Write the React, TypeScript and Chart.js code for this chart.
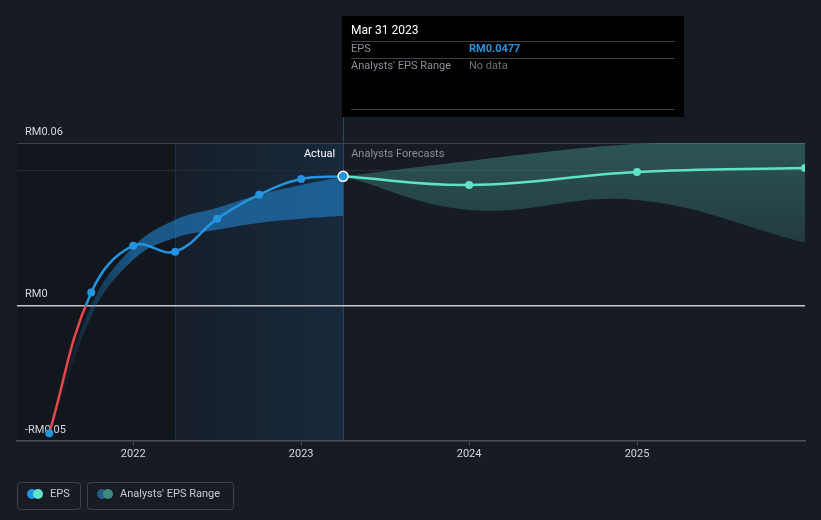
import React, { useEffect, useRef } from 'react';
import { Chart, registerables } from 'chart.js';

Chart.register(...registerables);

// ---- data (decimal years) ----
const epsDates = [2021.5, 2021.75, 2022.0, 2022.25, 2022.5, 2022.75, 2023.0, 2023.25];
const epsValues = [-0.0471, 0.0048, 0.0221, 0.0199, 0.032, 0.0409, 0.0467, 0.0477];

const pastRangeDates = [2021.5, 2021.75, 2022.0, 2022.25, 2022.5, 2022.75, 2023.0, 2023.25];
const pastRangeLow = [-0.05, -0.004, 0.0169, 0.025, 0.028, 0.0305, 0.032, 0.0331];
const pastRangeHigh = [-0.047, 0.0, 0.0217, 0.0317, 0.0361, 0.0409, 0.0445, 0.0475];

const forecastDates = [2023.25, 2024.0, 2025.0, 2026.0];
const forecastValues = [0.0477, 0.0445, 0.0493, 0.0508];
const forecastLow = [0.0477, 0.0353, 0.039, 0.0232];
const forecastHigh = [0.0477, 0.0534, 0.0596, 0.0604];

const yTicks = [-0.05, 0, 0.05, 0.06];
const yTickLabels: Record<string, string> = { '-0.05': '-RM0.05', '0': 'RM0', '0.05': '', '0.06': 'RM0.06' };
const xTicks = [2022, 2023, 2024, 2025];

const xMin = 2021.308;
const xMax = 2026.0;
const highlightStart = 2022.25;
const currentDate = 2023.25;

const tooltipTitle = 'Mar 31 2023';
const tooltipEpsLabel = 'EPS';
const tooltipEpsValue = 'RM0.0477';
const tooltipRangeLabel = "Analysts' EPS Range";
const tooltipRangeValue = 'No data';
const legendLabels = ['EPS', "Analysts' EPS Range"];

const BG = '#161b24';
const BLUE = '#2394df';
const RED = '#e8474a';
const TEAL = '#5ee2c8';
const FONT = 'Roboto, "Open Sans", sans-serif';

const pts = (xs: number[], ys: number[]) => xs.map((x, i) => ({ x, y: ys[i] }));

export default function App() {
  const ref = useRef<HTMLCanvasElement>(null);

  useEffect(() => {
    const canvas = ref.current!;

    const deco = {
      id: 'deco',
      beforeDraw(chart: any) {
        const { ctx, chartArea: a, scales } = chart;
        const x = scales.x;
        ctx.save();
        ctx.fillStyle = BG;
        ctx.fillRect(0, 0, chart.width, chart.height);
        const xs = x.getPixelForValue(highlightStart);
        const xe = x.getPixelForValue(currentDate);
        ctx.fillStyle = 'rgba(0,0,0,0.14)';
        ctx.fillRect(a.left, a.top, xs - a.left, a.bottom - a.top);
        const g = ctx.createLinearGradient(xs, 0, xe, 0);
        g.addColorStop(0, 'rgba(30,110,180,0.04)');
        g.addColorStop(1, 'rgba(30,110,180,0.17)');
        ctx.fillStyle = g;
        ctx.fillRect(xs, a.top, xe - xs, a.bottom - a.top);
        ctx.lineWidth = 1;
        ctx.strokeStyle = 'rgba(35,70,105,0.5)';
        ctx.beginPath();
        ctx.moveTo(Math.round(xs) + 0.5, a.top);
        ctx.lineTo(Math.round(xs) + 0.5, a.bottom);
        ctx.stroke();
        ctx.strokeStyle = '#244766';
        ctx.beginPath();
        ctx.moveTo(Math.round(xe) + 0.5, 117);
        ctx.lineTo(Math.round(xe) + 0.5, a.bottom);
        ctx.stroke();
        ctx.restore();
      },
      afterDraw(chart: any) {
        const { ctx, scales } = chart;
        const xe = scales.x.getPixelForValue(currentDate);
        ctx.save();
        // Actual / Forecast labels
        ctx.font = `11px ${FONT}`;
        ctx.textBaseline = 'middle';
        ctx.textAlign = 'right';
        ctx.fillStyle = '#ffffff';
        ctx.fillText('Actual', xe - 8, 154);
        ctx.textAlign = 'left';
        ctx.fillStyle = '#8a8f98';
        ctx.fillText('Analysts Forecasts', xe + 8, 154);

        // tooltip box
        const bx = Math.round(xe) - 1;
        ctx.fillStyle = '#000000';
        ctx.fillRect(bx, 16, 342, 101);
        ctx.strokeStyle = '#3a3e45';
        ctx.lineWidth = 1;
        [41.5, 58.5, 109.5].forEach((yy) => {
          ctx.beginPath();
          ctx.moveTo(bx + 9, yy);
          ctx.lineTo(bx + 333, yy);
          ctx.stroke();
        });
        ctx.textAlign = 'left';
        ctx.fillStyle = '#ffffff';
        ctx.font = `12px ${FONT}`;
        ctx.fillText(tooltipTitle, bx + 9, 31);
        ctx.font = `11px ${FONT}`;
        ctx.fillStyle = '#8a8f98';
        ctx.fillText(tooltipEpsLabel, bx + 9, 49);
        ctx.fillText(tooltipRangeLabel, bx + 9, 66);
        ctx.fillStyle = '#6c7078';
        ctx.fillText(tooltipRangeValue, bx + 127, 66);
        ctx.font = `bold 11px ${FONT}`;
        ctx.fillStyle = BLUE;
        ctx.fillText(tooltipEpsValue, bx + 127, 49);

        // legend
        ctx.strokeStyle = '#3d424c';
        ctx.lineWidth = 1;
        ctx.beginPath();
        ctx.roundRect(17.5, 482.5, 63, 27, 3);
        ctx.stroke();
        ctx.beginPath();
        ctx.roundRect(87.5, 482.5, 146, 27, 3);
        ctx.stroke();
        const dot = (cx: number, c: string) => {
          ctx.fillStyle = c;
          ctx.beginPath();
          ctx.arc(cx, 494, 5, 0, Math.PI * 2);
          ctx.fill();
        };
        dot(32, BLUE);
        dot(38, TEAL);
        dot(102, '#245f8a');
        dot(108, '#3e8a80');
        ctx.font = `11px ${FONT}`;
        ctx.fillStyle = '#c9ccd1';
        ctx.textAlign = 'left';
        ctx.fillText(legendLabels[0], 50, 494);
        ctx.fillText(legendLabels[1], 120, 494);
        ctx.restore();
      },
    };

    const epsBorder = (c: any) => {
      const { chart } = c;
      const a = chart.chartArea;
      if (!a) return BLUE;
      const y0 = chart.scales.y.getPixelForValue(0);
      const g = chart.ctx.createLinearGradient(0, a.top, 0, a.bottom);
      const s = Math.min(1, Math.max(0, (y0 - a.top) / (a.bottom - a.top)));
      g.addColorStop(0, BLUE);
      g.addColorStop(s, BLUE);
      g.addColorStop(s, RED);
      g.addColorStop(1, RED);
      return g;
    };

    const pastFill = (c: any) => {
      const { chart } = c;
      const a = chart.chartArea;
      if (!a) return 'rgba(33,140,220,0.5)';
      const x0 = chart.scales.x.getPixelForValue(2021.55);
      const x1 = chart.scales.x.getPixelForValue(2022.0);
      const g = chart.ctx.createLinearGradient(x0, 0, x1, 0);
      g.addColorStop(0, 'rgba(33,140,220,0)');
      g.addColorStop(1, 'rgba(33,140,220,0.55)');
      return g;
    };

    const foreFill = (c: any) => {
      const { chart } = c;
      const a = chart.chartArea;
      if (!a) return 'rgba(90,200,180,0.28)';
      const g = chart.ctx.createLinearGradient(0, a.top, 0, chart.scales.y.getPixelForValue(0.022));
      g.addColorStop(0, 'rgba(90,200,180,0.33)');
      g.addColorStop(1, 'rgba(90,200,180,0.18)');
      return g;
    };

    const n = epsValues.length;
    const chart = new Chart(canvas, {
      type: 'line',
      data: {
        datasets: [
          {
            label: 'EPS',
            data: pts(epsDates, epsValues),
            borderColor: epsBorder,
            borderWidth: 2.5,
            tension: 0.4,
            pointRadius: epsValues.map((_, i) => (i === n - 1 ? 5 : 4)),
            pointBackgroundColor: BLUE,
            pointBorderColor: epsValues.map((_, i) => (i === n - 1 ? '#ffffff' : BLUE)),
            pointBorderWidth: epsValues.map((_, i) => (i === n - 1 ? 1.5 : 0)),
            fill: false,
            order: 0,
          },
          {
            label: 'Forecast EPS',
            data: pts(forecastDates, forecastValues),
            borderColor: TEAL,
            borderWidth: 2.5,
            tension: 0.4,
            pointRadius: forecastValues.map((_, i) => (i === 0 ? 0 : 4)),
            pointBackgroundColor: TEAL,
            pointBorderWidth: 0,
            fill: false,
            clip: 0,
            order: 1,
          },
          {
            label: 'pastLow',
            data: pts(pastRangeDates, pastRangeLow),
            borderWidth: 0,
            borderColor: 'rgba(0,0,0,0)',
            pointRadius: 0,
            tension: 0.4,
            fill: false,
            order: 2,
          },
          {
            label: 'pastHigh',
            data: pts(pastRangeDates, pastRangeHigh),
            borderWidth: 0,
            borderColor: 'rgba(0,0,0,0)',
            backgroundColor: pastFill,
            pointRadius: 0,
            tension: 0.4,
            fill: '-1',
            order: 3,
          },
          {
            label: 'foreLow',
            data: pts(forecastDates, forecastLow),
            borderWidth: 0,
            borderColor: 'rgba(0,0,0,0)',
            pointRadius: 0,
            tension: 0.4,
            fill: false,
            clip: 0,
            order: 4,
          },
          {
            label: 'foreHigh',
            data: pts(forecastDates, forecastHigh),
            borderWidth: 0,
            borderColor: 'rgba(0,0,0,0)',
            backgroundColor: foreFill,
            pointRadius: 0,
            tension: 0.4,
            fill: '-1',
            clip: 0,
            order: 5,
          },
        ],
      },
      options: {
        animation: false,
        responsive: false,
        events: [],
        layout: { padding: { left: 17, right: 16, top: 143, bottom: 49 } },
        plugins: { legend: { display: false }, tooltip: { enabled: false } },
        scales: {
          x: {
            type: 'linear',
            min: xMin,
            max: xMax,
            afterBuildTicks: (s: any) => {
              s.ticks = xTicks.map((v) => ({ value: v }));
            },
            afterFit: (s: any) => {
              s.height = 30;
            },
            ticks: {
              callback: (v: any) => String(v),
              color: '#d4d7dc',
              font: { family: FONT, size: 11 },
              padding: 3,
              maxRotation: 0,
            },
            grid: { drawOnChartArea: false, drawTicks: true, tickLength: 4, tickColor: '#4a4f58' },
            border: { display: true, color: '#4a4f58', width: 1.5 },
          },
          y: {
            type: 'linear',
            min: -0.05,
            max: 0.06,
            afterBuildTicks: (s: any) => {
              s.ticks = yTicks.map((v) => ({ value: v }));
            },
            afterFit: (s: any) => {
              s.width = 0;
            },
            ticks: {
              mirror: true,
              padding: 8,
              labelOffset: -11,
              color: '#d4d7dc',
              font: { family: FONT, size: 11 },
              callback: (v: any) => yTickLabels[String(v)] ?? '',
            },
            grid: {
              drawTicks: false,
              color: (c: any) => {
                const v = c.tick?.value;
                if (v === 0) return '#c3c6cb';
                if (v === 0.06) return '#3b4049';
                if (v === 0.05) return '#262c36';
                return 'rgba(0,0,0,0)';
              },
              lineWidth: (c: any) => (c.tick?.value === 0 ? 1.5 : 1),
            },
            border: { display: false },
          },
        },
      },
      plugins: [deco],
    } as any);

    return () => chart.destroy();
  }, []);

  return (
    <div style={{ position: 'fixed', left: 0, top: 0, width: 821, height: 520, background: BG }}>
      <canvas ref={ref} width={821} height={520} style={{ display: 'block' }} />
    </div>
  );
}
